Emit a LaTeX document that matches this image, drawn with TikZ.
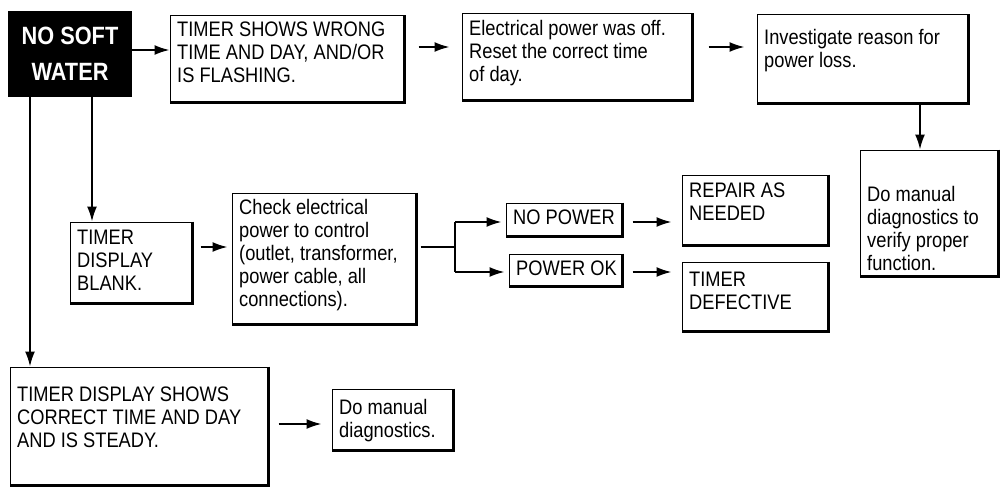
\documentclass[tikz,border=0pt]{standalone}
\usepackage{fontspec}
\setmainfont{Liberation Sans}[FakeStretch=0.87]
\usetikzlibrary{arrows.meta}
\newcommand{\bx}[7][6]{%
 \node[box,minimum width={(#5-#3)*1pt},minimum height={(#6-#4)*1pt}] (#2) at ({(#3+#5)/2},{(#4+#6)/2}) {};
 \node[txt] (#2t) at ({#3+7},{#4+#1}) {#7};
 \draw[line width=2.2pt] (#2.north east)--(#2.south east)--(#2.south west);}
\begin{document}
\begin{tikzpicture}[x=1pt,y=-1pt,
 box/.style={draw,line width=1pt,inner sep=0pt},
 txt/.style={anchor=north west,inner sep=0pt,align=left,font=\fontsize{21}{23}\selectfont},
 arr/.style={line width=1.8pt,-{Latex[length=15pt,width=10pt]}}]
\useasboundingbox (0,0) rectangle (1004,487);
\node[fill=black,text=white,minimum width=124pt,minimum height=86pt,align=center,font=\fontsize{25}{36}\selectfont\bfseries,inner sep=0pt] (ns) at (70,54) {NO SOFT\\WATER};
\bx{ts}{170}{16}{404}{102}{TIMER SHOWS WRONG\\TIME AND DAY, AND/OR\\IS FLASHING.}
\bx{ep}{462}{14}{692}{100}{Electrical power was off.\\Reset the correct time\\of day.}
\bx[14]{ir}{757}{15}{968}{103}{Investigate reason for\\power loss.}
\bx[36]{dm}{860}{150}{998}{276}{Do manual\\diagnostics to\\verify proper\\function.}
\bx[8]{tb}{70}{222}{192}{303}{TIMER\\DISPLAY\\BLANK.}
\bx{ce}{232}{193}{416}{324}{Check electrical\\power to control\\(outlet, transformer,\\power cable, all\\connections).}
\bx[7]{np}{506}{203}{622}{236}{NO POWER}
\bx[7]{po}{509}{254}{622}{286}{POWER OK}
\bx[8]{ra}{682}{175}{828}{245}{REPAIR AS\\NEEDED}
\bx[10]{td}{682}{262}{828}{331}{TIMER\\DEFECTIVE}
\bx[20]{tc}{10}{367}{268}{485}{TIMER DISPLAY SHOWS\\CORRECT TIME AND DAY\\AND IS STEADY.}
\bx[10]{md}{332}{389}{453}{450}{Do manual\\diagnostics.}
\coordinate (br) at (455,247);
\draw[arr] (ns.east|-0,50) -- (ts.west|-0,50);
\draw[arr] ([xshift=14pt]ts.east|-0,47) -- ([xshift=-12pt]ep.west|-0,47);
\draw[arr] ([xshift=16pt]ep.east|-0,47) -- ([xshift=-12pt]ir.west|-0,47);
\draw[arr] (ir.south-|920,0) -- (dm.north-|920,0);
\draw[arr] (ns.south-|92,0) -- (tb.north-|92,0);
\draw[arr] (ns.south-|30,0) -- (tc.north-|30,0);
\draw[arr] ([xshift=8pt]tb.east|-0,247) -- ([xshift=-4pt]ce.west|-0,247);
\draw[line width=1.8pt] ([xshift=4pt]ce.east|-0,247) -- (br);
\draw[line width=1.8pt] (455,222) -- (455,272);
\draw[arr] (455,222) -- ([xshift=-4pt]np.west|-0,222);
\draw[arr] (455,272) -- ([xshift=-4pt]po.west|-0,272);
\draw[arr] ([xshift=10pt]np.east|-0,222) -- ([xshift=-10pt]ra.west|-0,222);
\draw[arr] ([xshift=10pt]po.east|-0,272) -- ([xshift=-10pt]td.west|-0,272);
\draw[arr] ([xshift=10pt]tc.east|-0,424) -- ([xshift=-10pt]md.west|-0,424);
\end{tikzpicture}
\end{document}
